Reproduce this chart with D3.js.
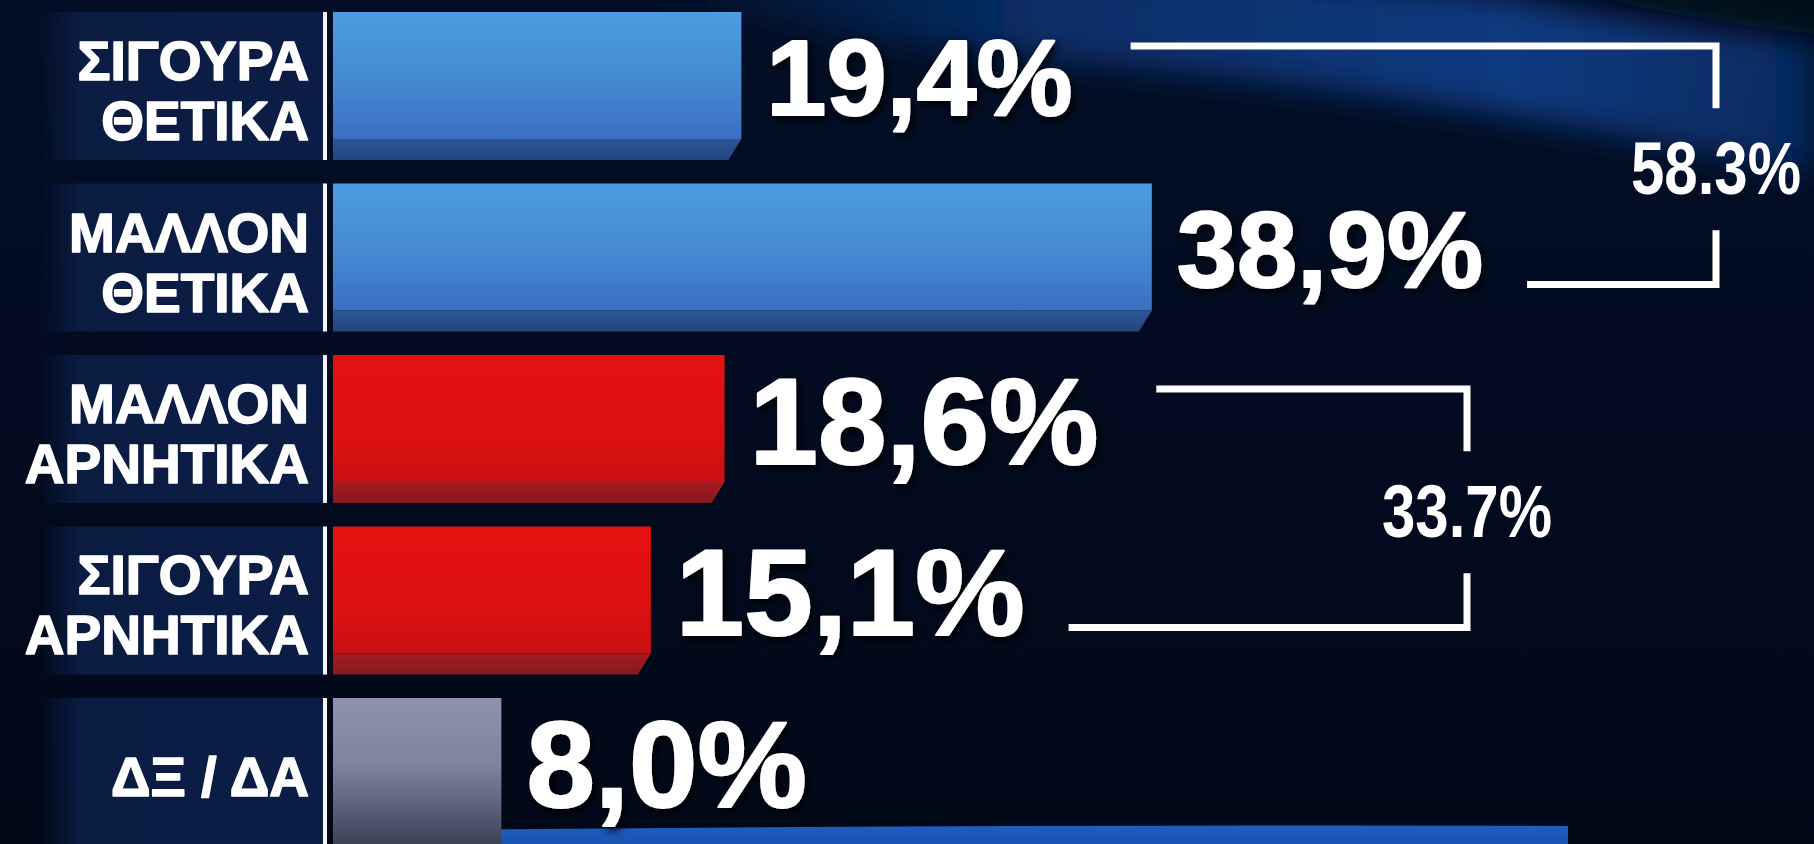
<!DOCTYPE html>
<html><head><meta charset="utf-8">
<script src="https://cdn.jsdelivr.net/npm/d3@7"></script>
<style>html,body{margin:0;padding:0;background:#020b1d;overflow:hidden}</style>
</head><body><svg id="c" width="1814" height="844"></svg>
<script>
// ---- data ----
const categories = ["ΣΙΓΟΥΡΑ\nΘΕΤΙΚΑ", "ΜΑΛΛΟΝ\nΘΕΤΙΚΑ", "ΜΑΛΛΟΝ\nΑΡΝΗΤΙΚΑ", "ΣΙΓΟΥΡΑ\nΑΡΝΗΤΙΚΑ", "ΔΞ / ΔΑ"];
const values = [19.4, 38.9, 18.6, 15.1, 8.0];
const sentiment = ["pos", "pos", "neg", "neg", "dk"];
const groupRows = [[0, 1], [2, 3]];
const groupTotals = [58.3, 33.7];

// ---- style ----
const valueFontSize = [108, 108, 123, 123, 123];

// ---- setup ----
const W = 1814, H = 844;
const svg = d3.select("#c");
const defs = svg.append("defs");
function lg(id, stops, x1 = 0, y1 = 0, x2 = 0, y2 = 1) {
  const g = defs.append("linearGradient").attr("id", id)
    .attr("x1", x1).attr("y1", y1).attr("x2", x2).attr("y2", y2);
  stops.forEach(([o, c, op]) => g.append("stop").attr("offset", o)
    .attr("stop-color", c).attr("stop-opacity", op == null ? 1 : op));
}
lg("bg", [[0, "#030e26"], [0.5, "#020b1f"], [1, "#010818"]]);
lg("posMain", [[0, "#4c9ce1"], [0.55, "#4589d3"], [1, "#3a6fbf"]]);
lg("posBand", [[0, "#2e5698"], [1, "#23457d"]]);
lg("negMain", [[0, "#e51111"], [0.7, "#db1010"], [1, "#c81114"]]);
lg("negBand", [[0, "#a51b20"], [1, "#861a20"]]);
lg("dkMain", [[0, "#8c93ad"], [0.45, "#7d849e"], [1, "#3a4155"]]);
lg("labelBox", [[0, "#0b1c43", 0], [0.14, "#0b1c43", 1], [1, "#0b1d46", 1]], 0, 0, 1, 0);
lg("swoosh", [[0, "#0a3a85", 0], [0.35, "#0b3d88", 0.65], [0.75, "#0c4291", 0.85], [1, "#0a3b84", 0.6]], 0, 0, 1, 0);
lg("strip", [[0, "#1f5dbf"], [1, "#1a54b2"]]);

const blur = defs.append("filter").attr("id", "blur").attr("x", "-20%").attr("y", "-50%").attr("width", "140%").attr("height", "200%");
blur.append("feGaussianBlur").attr("stdDeviation", 16);
const shadow = defs.append("filter").attr("id", "shadow").attr("x", "-10%").attr("y", "-20%").attr("width", "130%").attr("height", "150%");
shadow.append("feDropShadow").attr("dx", 3).attr("dy", 4).attr("stdDeviation", 4)
  .attr("flood-color", "#000").attr("flood-opacity", 0.85);

// background
svg.append("rect").attr("width", W).attr("height", H).attr("fill", "url(#bg)");
svg.append("path")
  .attr("d", "M620,-30 L1250,-30 L1814,30 L1814,175 C1600,125 1350,85 1050,60 C900,45 740,20 620,-30 Z")
  .attr("fill", "url(#swoosh)").attr("filter", "url(#blur)");
svg.append("path")
  .attr("d", "M1500,-20 L1850,-20 L1850,40 C1750,25 1620,10 1500,-20 Z")
  .attr("fill", "#010817").attr("filter", "url(#blur)");

// scales
const x = d3.scaleLinear().domain([0, 40]).range([333, 1175]);
const y = d3.scaleBand().domain(d3.range(categories.length)).range([12, 846])
  .paddingInner(0.137).paddingOuter(0);
const bw = y.bandwidth();

// bottom strip
svg.append("path")
  .attr("d", `M${x(0)},831 Q950,824 1568,826 L1568,${H} L${x(0)},${H} Z`)
  .attr("fill", "url(#strip)");

const fills = { pos: ["url(#posMain)", "url(#posBand)"], neg: ["url(#negMain)", "url(#negBand)"], dk: ["url(#dkMain)", null] };

const rows = svg.append("g").selectAll("g").data(values).join("g");

// label boxes
rows.append("rect")
  .attr("x", 40).attr("width", 326 - 40)
  .attr("y", (d, i) => y(i)).attr("height", bw)
  .attr("fill", "url(#labelBox)");

// separators
rows.append("rect")
  .attr("x", 323).attr("width", 4)
  .attr("y", (d, i) => y(i)).attr("height", bw)
  .attr("fill", "#f4f6fa");

// bars
const bandH = Math.round(bw * 0.142), slant = 13;
rows.each(function (d, i) {
  const g = d3.select(this);
  const x0 = x(0), x1 = x(d), t = y(i), b = y(i) + bw;
  const f = fills[sentiment[i]];
  if (f[1]) {
    g.append("path").attr("d", `M${x0},${t} H${x1} V${b - bandH} H${x0} Z`).attr("fill", f[0]);
    g.append("path").attr("d", `M${x0},${b - bandH} H${x1} L${x1 - slant},${b} H${x0} Z`).attr("fill", f[1]);
  } else {
    g.append("path").attr("d", `M${x0},${t} H${x1} V${b} H${x0} Z`).attr("fill", f[0]);
  }
});

// category labels
rows.each(function (d, i) {
  const lines = categories[i].split("\n");
  const cy = y(i) + bw / 2;
  const t = d3.select(this).append("text")
    .attr("text-anchor", "end")
    .attr("font-family", "'Liberation Sans', Arial, sans-serif")
    .attr("font-weight", "bold").attr("font-size", 55)
    .attr("fill", "#ffffff").attr("stroke", "#ffffff").attr("stroke-width", 1.6)
    .attr("stroke-linejoin", "round");
  lines.forEach((ln, k) => {
    t.append("tspan").attr("x", 309)
      .attr("y", cy + 24 + (k - (lines.length - 1) / 2) * 60)
      .text(ln);
  });
});

// value labels
const loc = d3.formatLocale({ decimal: ",", thousands: ".", grouping: [3], currency: ["", "€"] });
const fmt = loc.format(".1f");
const valueEnds = [];
rows.append("text")
  .attr("x", d => x(d) + 25)
  .attr("y", (d, i) => y(i) + bw / 2 + valueFontSize[i] * 0.729 / 2 - 10)
  .attr("font-family", "'Liberation Sans', Arial, sans-serif")
  .attr("font-weight", "bold").attr("font-size", (d, i) => valueFontSize[i])
  .attr("fill", "#ffffff").attr("stroke", "#ffffff").attr("stroke-width", 2)
  .attr("stroke-linejoin", "round")
  .attr("filter", "url(#shadow)")
  .text(d => fmt(d) + "%")
  .each(function (d, i) { valueEnds[i] = x(d) + 25 + this.getComputedTextLength(); });

// group brackets
const bracketRight = [1716, 1467];
const gfmt = d3.format(".1f");
groupRows.forEach(([a, b], gi) => {
  const topY = y(a) + 34, botY = y(b) + 101;
  const rx = bracketRight[gi];
  const mid = (topY + botY) / 2;
  const gg = svg.append("g");
  gg.append("path")
    .attr("d", `M${valueEnds[a] + 58},${topY} H${rx} V${mid - 57}`)
    .attr("fill", "none").attr("stroke", "#ffffff").attr("stroke-width", 7).attr("stroke-linejoin", "miter");
  gg.append("path")
    .attr("d", `M${rx},${mid + 65} V${botY} H${valueEnds[b] + 44}`)
    .attr("fill", "none").attr("stroke", "#ffffff").attr("stroke-width", 7).attr("stroke-linejoin", "miter");
  gg.append("text")
    .attr("transform", `translate(${rx},${mid + 29}) scale(0.8,1)`)
    .attr("text-anchor", "middle")
    .attr("font-family", "'Liberation Sans', Arial, sans-serif")
    .attr("font-weight", "bold").attr("font-size", 75)
    .attr("fill", "#ffffff")
    .text(gfmt(groupTotals[gi]) + "%");
});
</script></body></html>
